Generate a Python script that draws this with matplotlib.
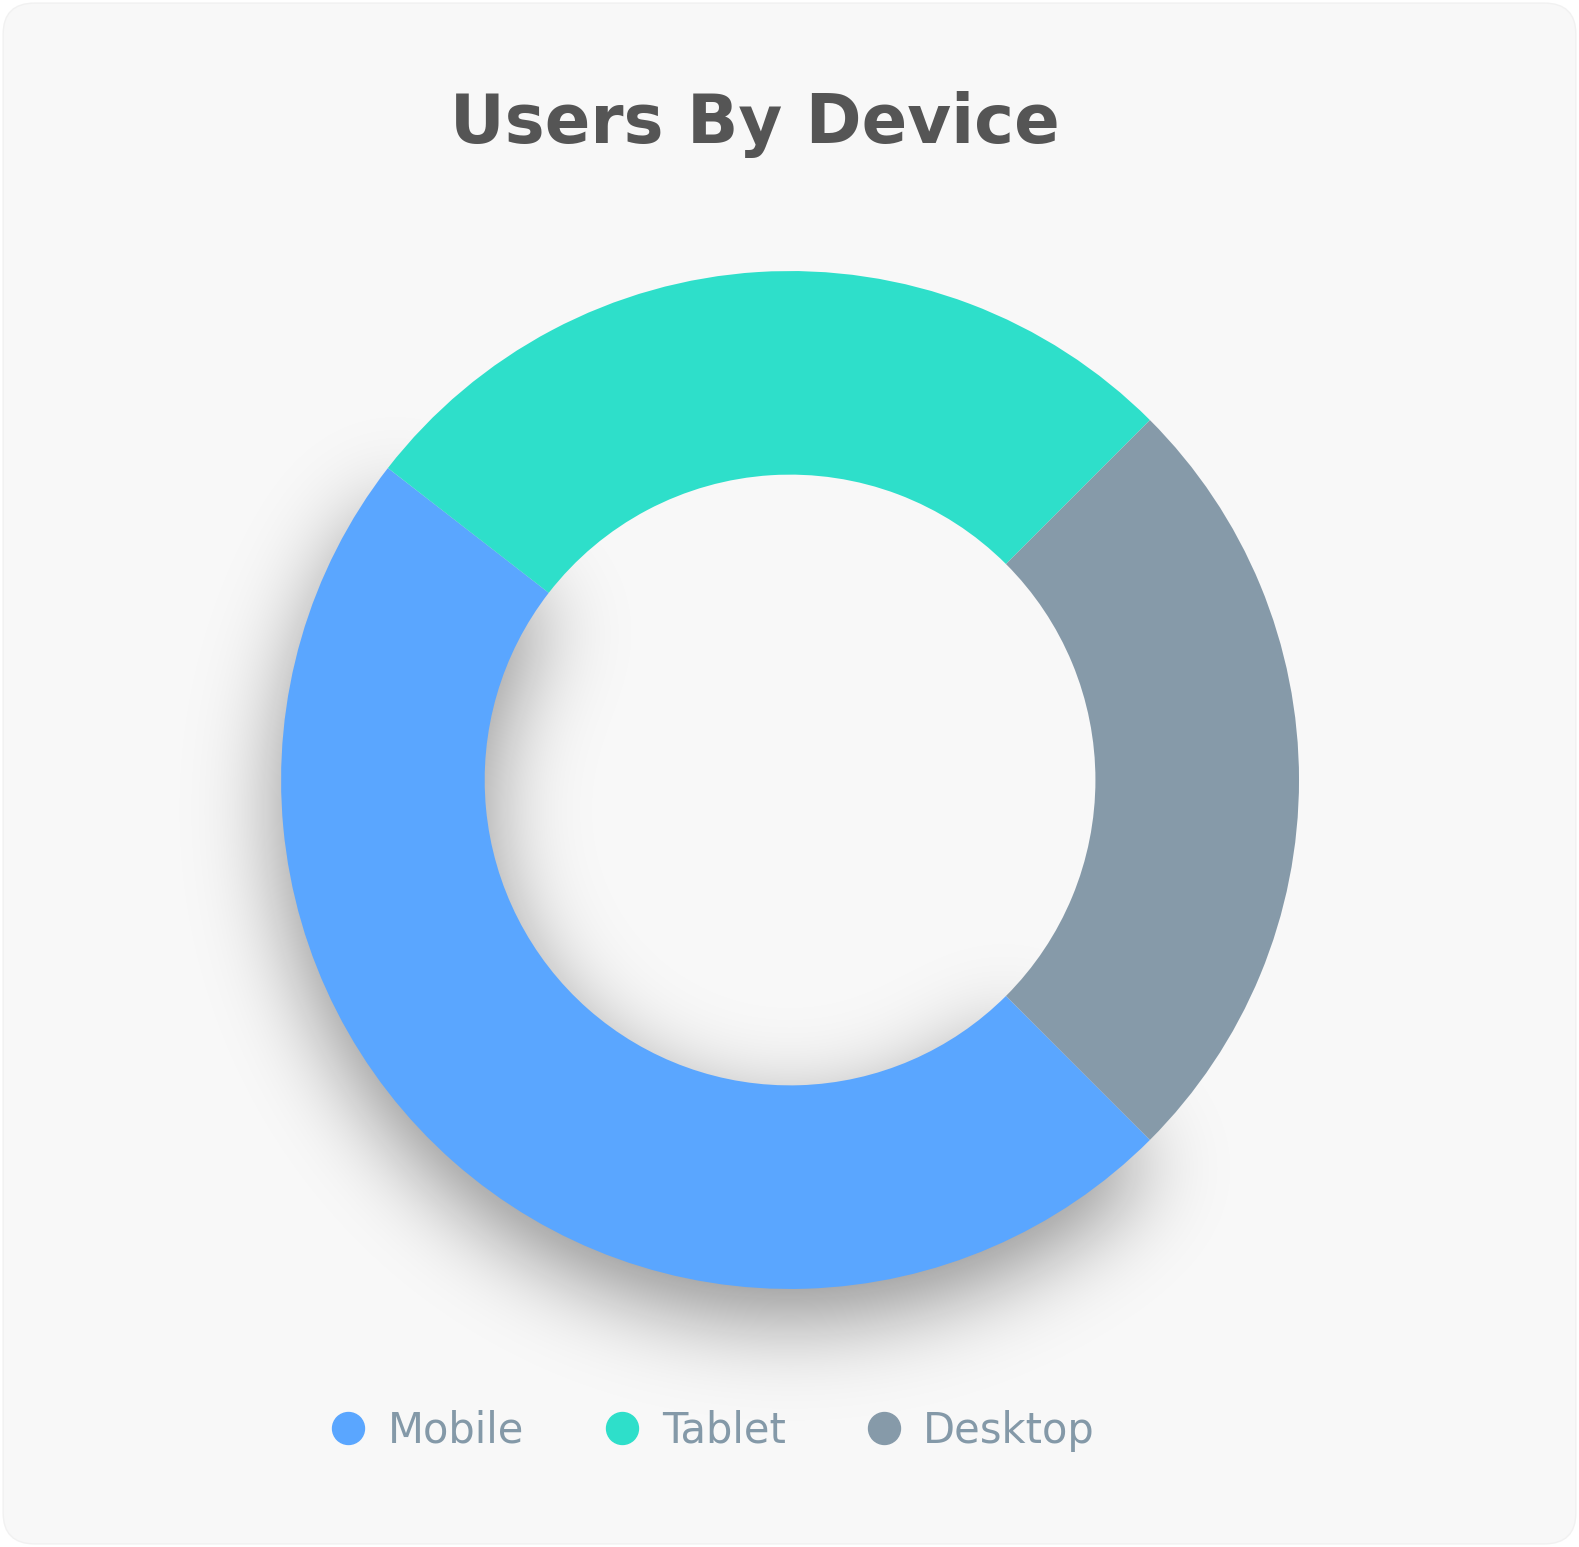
import numpy as np
import matplotlib
matplotlib.use("Agg")
import matplotlib.pyplot as plt
from matplotlib.patches import Wedge, FancyBboxPatch
from matplotlib.lines import Line2D

# Data
labels = ["Mobile", "Tablet", "Desktop"]
values = [48, 27, 25]
colors = ["#5AA6FF", "#2EDFCA", "#869AA9"]

title_color = "#555555"
legend_color = "#8499A8"
bg = "#F8F8F8"


def gauss_blur(a, sigma):
    # blur a 2D array with an FFT gaussian
    h, w = a.shape
    fy = np.fft.fftfreq(h)[:, None]
    fx = np.fft.rfftfreq(w)[None, :]
    g = np.exp(-2 * (np.pi * sigma) ** 2 * (fx ** 2 + fy ** 2))
    return np.fft.irfft2(np.fft.rfft2(a) * g, s=a.shape)


def shadow_filter(im, dpi, pad=200, sigma=44, dy=30, alpha=0.42):
    a = np.pad(im[:, :, 3], pad)
    a = np.roll(a, dy, axis=0)
    b = np.clip(gauss_blur(a, sigma), 0, 1)
    out = np.zeros(a.shape + (4,))
    out[..., 3] = b * alpha
    return out, -pad, -pad


fig = plt.figure(figsize=(15.79, 15.47), dpi=100)
fig.patch.set_facecolor("white")

# rounded card background
card = FancyBboxPatch((0.002, 0.002), 0.996, 0.996,
                      boxstyle="round,pad=0,rounding_size=0.02",
                      transform=fig.transFigure, facecolor=bg,
                      edgecolor="#F1F1F1", linewidth=1.0, zorder=-10)
fig.patches.append(card)

ax = fig.add_axes([0.178, 0.1668, 0.6447, 0.658])
ax.set_facecolor("none")

wedges, _ = ax.pie(values, colors=colors, startangle=-45, counterclock=False,
                   radius=1, wedgeprops=dict(width=0.4, linewidth=0))

# drop shadow under the mobile slice
w = wedges[0]
sh = Wedge(w.center, w.r, w.theta1, w.theta2, width=w.width,
           facecolor="black", linewidth=0, zorder=w.get_zorder() - 1)
sh.set_agg_filter(shadow_filter)
sh.set_clip_on(False)
ax.add_patch(sh)

ax.set_xlim(-1, 1)
ax.set_ylim(-1, 1)
ax.set_aspect("equal")
ax.axis("off")

fig.text(0.478, 1 - 124 / 1547, "Users By Device", ha="center", va="center",
         fontsize=48.5, fontweight="bold", color=title_color, family="DejaVu Sans")

handles = [Line2D([], [], marker="o", linestyle="none", markersize=23,
                  markerfacecolor=c, markeredgecolor=c) for c in colors]
fig.legend(handles, labels, loc="center", bbox_to_anchor=(0.4504, 0.075),
           ncol=3, frameon=False, prop=dict(family="DejaVu Sans", size=30),
           labelcolor=legend_color, handletextpad=0.45, columnspacing=1.85,
           handlelength=1.0)

fig.savefig("out.png", dpi=100, facecolor=fig.get_facecolor())
